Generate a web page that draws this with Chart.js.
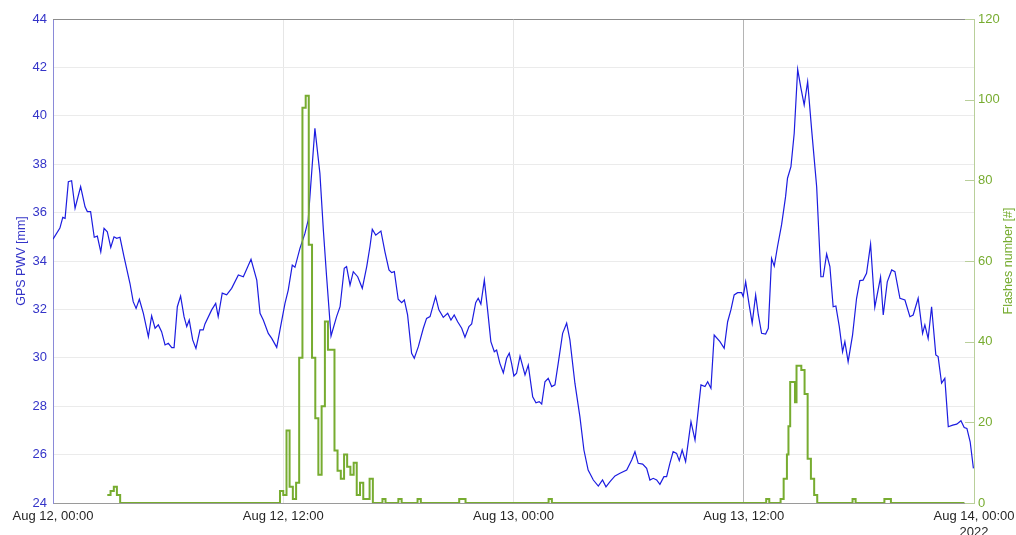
<!DOCTYPE html>
<html>
<head>
<meta charset="utf-8">
<title>GPS PWV and flashes</title>
<script src="https://cdn.jsdelivr.net/npm/chart.js@4.4.0/dist/chart.umd.min.js"></script>
<style>
  html, body { margin: 0; padding: 0; background: #fff; }
  #wrap { width: 1016px; height: 535px; }
</style>
</head>
<body>
<div id="wrap"><canvas id="pwvChart" width="1016" height="535"></canvas></div>
<script>
// Hours since Aug 12, 00:00
const pwvHours = [0,0.36,0.51,0.63,0.80,0.97,1.15,1.44,1.67,1.79,1.96,2.15,2.31,2.49,2.66,2.83,3.01,3.18,3.32,3.49,3.70,4.01,4.18,4.33,4.50,4.71,4.97,5.14,5.32,5.49,5.66,5.84,6.01,6.19,6.31,6.48,6.65,6.83,6.97,7.10,7.28,7.45,7.66,7.83,7.92,8.27,8.48,8.61,8.82,9.05,9.31,9.66,9.92,10.32,10.62,10.79,10.96,11.22,11.40,11.66,11.83,12.09,12.26,12.47,12.61,12.87,13.13,13.30,13.65,13.91,14.09,14.26,14.49,14.78,14.96,15.18,15.30,15.48,15.65,15.88,16.12,16.35,16.52,16.64,16.82,17.09,17.30,17.51,17.65,17.79,17.99,18.17,18.31,18.48,18.69,18.83,19.04,19.30,19.47,19.65,19.94,20.11,20.34,20.57,20.74,20.91,21.09,21.30,21.47,21.68,21.82,22.03,22.16,22.30,22.48,22.65,22.82,23.00,23.12,23.29,23.47,23.64,23.78,23.90,24.02,24.16,24.34,24.60,24.77,25.00,25.17,25.34,25.47,25.64,25.81,25.99,26.16,26.33,26.56,26.77,26.94,27.20,27.46,27.67,27.89,28.16,28.42,28.64,28.82,29.03,29.29,29.55,29.90,30.16,30.33,30.50,30.73,30.94,31.11,31.28,31.46,31.63,31.84,31.98,32.15,32.32,32.50,32.64,32.79,32.97,33.25,33.46,33.77,33.98,34.12,34.29,34.46,34.76,34.98,35.16,35.33,35.50,35.68,35.89,35.97,36.10,36.27,36.44,36.62,36.76,36.93,37.14,37.28,37.45,37.59,37.76,37.97,38.18,38.28,38.46,38.63,38.81,38.98,39.15,39.33,39.54,39.80,40.02,40.14,40.32,40.49,40.66,40.80,40.98,41.15,41.27,41.44,41.67,41.88,42.05,42.22,42.40,42.61,42.83,43.13,43.27,43.48,43.71,43.88,44.14,44.40,44.66,44.83,45.09,45.32,45.44,45.61,45.79,46.01,46.13,46.31,46.48,46.66,46.89,47.10,47.32,47.49,47.63,47.80,47.97];
const pwvValues = [34.9,35.36,35.8,35.76,37.28,37.32,36.18,37.07,36.24,36.04,36.04,34.98,35.03,34.38,35.35,35.21,34.56,35.0,34.94,34.98,34.18,33.08,32.32,32.04,32.42,31.84,30.87,31.73,31.22,31.36,31.08,30.53,30.6,30.42,30.42,32.11,32.55,31.7,31.29,31.56,30.74,30.39,31.15,31.15,31.4,31.98,32.25,31.7,32.67,32.6,32.87,33.42,33.35,34.07,33.21,31.84,31.56,31.01,30.8,30.43,31.15,32.25,32.8,33.83,33.74,34.52,35.14,35.69,39.48,37.62,35.28,33.35,30.9,31.7,32.11,33.7,33.77,33.0,33.56,33.35,32.87,33.77,34.6,35.31,35.07,35.24,34.38,33.63,33.52,33.56,32.42,32.28,32.39,31.77,30.19,29.98,30.46,31.22,31.63,31.7,32.53,31.98,31.67,31.84,31.56,31.77,31.49,31.22,30.85,31.29,31.4,32.28,32.46,32.22,33.21,31.98,30.67,30.25,30.32,29.77,29.38,29.98,30.19,29.77,29.25,29.36,30.07,29.29,29.7,28.39,28.14,28.19,28.09,29.01,29.15,28.81,28.88,29.77,31.01,31.43,30.74,28.95,27.57,26.19,25.36,24.95,24.7,24.95,24.67,24.88,25.12,25.23,25.36,25.78,26.12,25.64,25.61,25.43,24.95,25.02,24.95,24.77,25.09,25.09,25.64,26.12,26.05,25.75,26.19,25.71,27.36,26.6,28.88,28.81,29.01,28.74,30.94,30.67,30.39,31.49,31.98,32.6,32.69,32.69,32.53,33.14,32.25,31.43,32.6,31.77,31.01,30.98,31.22,34.11,33.79,34.6,35.49,36.66,37.42,37.9,39.28,41.92,41.14,40.45,41.41,39.41,37.07,33.35,33.35,34.29,33.77,32.11,32.14,31.29,30.25,30.67,29.84,30.94,32.46,33.19,33.21,33.49,34.7,32.09,33.33,31.77,33.14,33.63,33.56,32.46,32.39,31.7,31.77,32.46,31.01,31.36,30.8,32.11,30.12,30.05,28.95,29.15,27.15,27.22,27.26,27.4,27.12,27.08,26.53,25.43];

// Flash counts per bin, value holds until the next bin start
const flashHours = [2.83,3.0,3.17,3.33,3.5,11.83,12.0,12.17,12.33,12.5,12.67,12.83,13.0,13.17,13.33,13.5,13.67,13.83,14.0,14.17,14.33,14.67,14.83,15.0,15.17,15.33,15.5,15.67,15.83,16.0,16.17,16.5,16.67,17.17,17.33,18.0,18.17,19.0,19.17,21.17,21.5,25.83,26.0,37.17,37.33,37.92,38.08,38.25,38.33,38.42,38.67,38.75,39.0,39.17,39.33,39.5,39.67,39.83,41.67,41.83,43.33,43.5,43.67,47.5];
const flashCounts = [2,3,4,2,0,3,2,18,4,1,5,36,98,101,64,36,21,7,24,45,38,13,8,6,12,9,7,10,2,5,1,6,0,1,0,1,0,1,0,1,0,1,0,1,0,1,6,12,19,30,25,34,33,27,11,6,2,0,1,0,1,1,0,0];

const xTickHours = [0, 12, 24, 36, 48];
const xTickLabels = ['Aug 12, 00:00', 'Aug 12, 12:00', 'Aug 13, 00:00', 'Aug 13, 12:00', ['Aug 14, 00:00', '2022']];

const BLUE = '#1c1ce0';
const BLUE_TEXT = '#3434c8';
const GREEN = '#77ac30';
const FONT = "'Liberation Sans', Arial, Helvetica, sans-serif";

// Titles, top border and inner ticks drawn on top
const framePlugin = {
    id: 'frame',
    afterDraw(chart) {
        const ctx = chart.ctx;
        const a = chart.chartArea;
        ctx.save();
        ctx.strokeStyle = '#8c8c8c';
        ctx.lineWidth = 1;
        ctx.beginPath();
        ctx.moveTo(a.left, a.top + 0.5);
        ctx.lineTo(a.right, a.top + 0.5);
        ctx.stroke();

        // inner tick marks on the right axis
        const y2 = chart.scales.y2;
        ctx.strokeStyle = '#b9cf9a';
        y2.ticks.forEach(t => {
            const py = Math.round(y2.getPixelForValue(t.value)) + 0.5;
            ctx.beginPath();
            ctx.moveTo(a.right - 9, py);
            ctx.lineTo(a.right, py);
            ctx.stroke();
        });

        ctx.font = '12.5px ' + FONT;
        ctx.textAlign = 'center';
        ctx.textBaseline = 'middle';
        const cy = (a.top + a.bottom) / 2;
        ctx.fillStyle = BLUE_TEXT;
        ctx.translate(22, cy);
        ctx.rotate(-Math.PI / 2);
        ctx.fillText('GPS PWV [mm]', 0, 0);
        ctx.restore();

        ctx.save();
        ctx.font = '12.5px ' + FONT;
        ctx.textAlign = 'center';
        ctx.textBaseline = 'middle';
        ctx.fillStyle = GREEN;
        ctx.translate(1009, cy);
        ctx.rotate(-Math.PI / 2);
        ctx.fillText('Flashes number [#]', 0, 0);
        ctx.restore();
    }
};

const ctx = document.getElementById('pwvChart');
new Chart(ctx, {
    type: 'line',
    data: {
        datasets: [{
            label: 'Flashes',
            data: flashHours.map((h, i) => ({ x: h, y: flashCounts[i] })),
            yAxisID: 'y2',
            borderColor: GREEN,
            borderWidth: 2,
            stepped: 'before',
            pointRadius: 0,
            fill: false
        }, {
            label: 'GPS PWV',
            data: pwvHours.map((h, i) => ({ x: h, y: pwvValues[i] })),
            yAxisID: 'y',
            borderColor: BLUE,
            borderWidth: 1.2,
            tension: 0,
            pointRadius: 0,
            fill: false
        }]
    },
    options: {
        responsive: false,
        animation: false,
        layout: { padding: { top: 19, left: 0, right: 0, bottom: 0 } },
        plugins: {
            legend: { display: false },
            tooltip: { enabled: false }
        },
        scales: {
            x: {
                type: 'linear',
                min: 0,
                max: 48,
                afterFit: s => {
                    s.height = 32;
                    s.paddingLeft = 0;
                    s.paddingRight = 0;
                },
                afterBuildTicks: s => { s.ticks = xTickHours.map(v => ({ value: v })); },
                ticks: {
                    autoSkip: false,
                    maxRotation: 0,
                    padding: 6,
                    color: '#262626',
                    font: { family: FONT, size: 13 },
                    callback: v => xTickLabels[xTickHours.indexOf(v)]
                },
                grid: {
                    drawTicks: false,
                    color: c => (c.tick && c.tick.value === 36) ? '#b4b4b4' : '#e6e6e6'
                },
                border: { color: '#9a9a9a' }
            },
            y: {
                position: 'left',
                min: 24,
                max: 44,
                afterFit: s => { s.width = 53; },
                ticks: {
                    stepSize: 2,
                    padding: 6,
                    color: BLUE_TEXT,
                    font: { family: FONT, size: 13 }
                },
                grid: { drawTicks: false, color: '#ebebeb' },
                border: { color: '#8a8ad8' }
            },
            y2: {
                position: 'right',
                min: 0,
                max: 120,
                afterFit: s => { s.width = 42; },
                ticks: {
                    stepSize: 20,
                    padding: 4,
                    color: GREEN,
                    font: { family: FONT, size: 13 }
                },
                grid: { drawOnChartArea: false, drawTicks: false },
                border: { color: '#b9cf9a' }
            }
        }
    },
    plugins: [framePlugin]
});
</script>
</body>
</html>
